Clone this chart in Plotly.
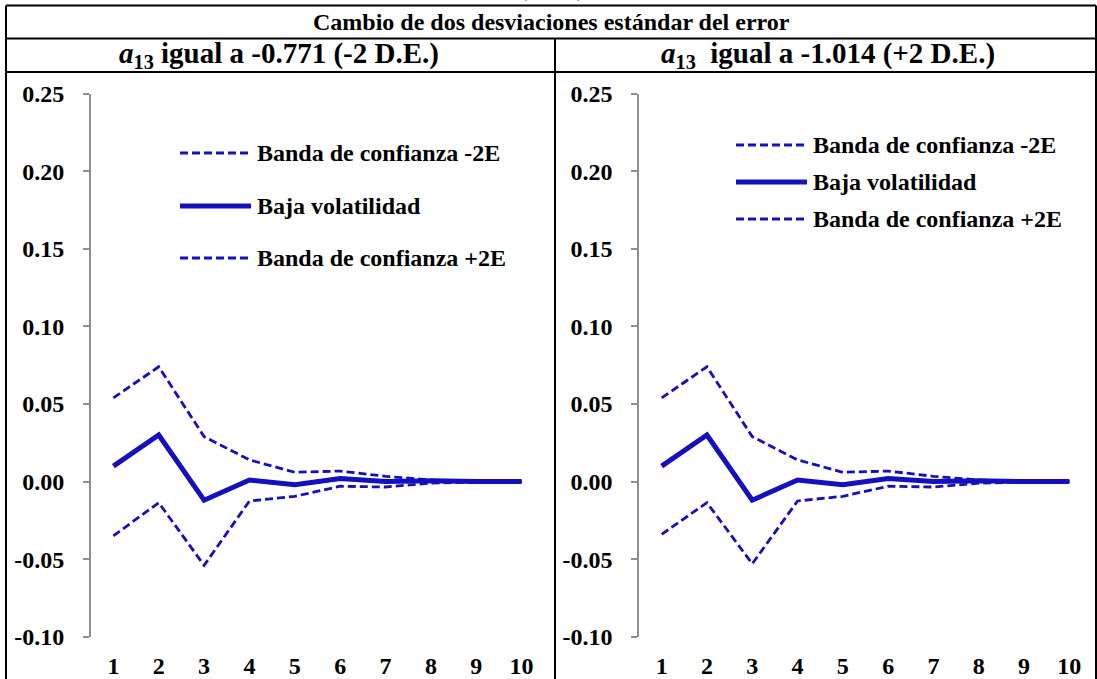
import plotly.graph_objects as go

# ---- data -------------------------------------------------------------
periods = [1, 2, 3, 4, 5, 6, 7, 8, 9, 10]
period_labels = ["1", "2", "3", "4", "5", "6", "7", "8", "9", "10"]

# left panel: a13 = -0.771 (-2 D.E.)
low_vol_left = [0.010, 0.030, -0.012, 0.001, -0.002, 0.002, 0.000, 0.0005, 0.000, 0.000]
band_minus_left = [0.054, 0.074, 0.029, 0.014, 0.006, 0.0068, 0.0034, 0.001, 0.0003, 0.000]
band_plus_left = [-0.035, -0.0136, -0.054, -0.0125, -0.0095, -0.003, -0.0035, -0.001, -0.0003, 0.000]

# right panel: a13 = -1.014 (+2 D.E.)
low_vol_right = [0.010, 0.030, -0.012, 0.001, -0.002, 0.002, 0.000, 0.0005, 0.000, 0.000]
band_minus_right = [0.054, 0.074, 0.029, 0.014, 0.006, 0.0068, 0.0034, 0.001, 0.0003, 0.000]
band_plus_right = [-0.034, -0.0136, -0.053, -0.0125, -0.0095, -0.003, -0.0035, -0.001, -0.0003, 0.000]

y_ticks = [-0.10, -0.05, 0.00, 0.05, 0.10, 0.15, 0.20, 0.25]
y_min, y_max = -0.10, 0.25

main_title = "Cambio de dos desviaciones estándar del error"
left_title = "<i>a</i><sub>13</sub> igual a -0.771 (-2 D.E.)"
right_title = "<i>a</i><sub>13</sub>\u00a0 igual a -1.014 (+2 D.E.)"
name_minus = "Banda de confianza -2E"
name_mid = "Baja volatilidad"
name_plus = "Banda de confianza +2E"

# ---- layout geometry (pixels) -----------------------------------------
W, H = 1097, 679
BLUE = "#1410BE"
AXIS_GREY = "#8E8E8E"
FONT = "Liberation Serif, Times New Roman, serif"
DASH = "8px,4px"


def px_x(x):
    return x / W


def px_y(y):
    return 1 - y / H


y_dom = [px_y(636.7), px_y(93.8)]
left_dom = [px_x(90.7), px_x(544.3)]
right_dom = [px_x(639.0), px_x(1092.0)]
zero_pos = y_dom[0] + (0 - y_min) / (y_max - y_min) * (y_dom[1] - y_dom[0])

x_range = [periods[0] - 0.5, periods[-1] + 0.5]
boundaries = [p - 0.5 for p in periods] + [periods[-1] + 0.5]

fig = go.Figure()


def add_panel(xa, ya, mid, minus, plus):
    fig.add_trace(go.Scatter(x=periods, y=mid, mode="lines", name=name_mid,
                             line=dict(color=BLUE, width=5), xaxis=xa, yaxis=ya,
                             showlegend=False))
    fig.add_trace(go.Scatter(x=periods, y=minus, mode="lines", name=name_minus,
                             line=dict(color=BLUE, width=2.8, dash=DASH), xaxis=xa, yaxis=ya,
                             showlegend=False))
    fig.add_trace(go.Scatter(x=periods, y=plus, mode="lines", name=name_plus,
                             line=dict(color=BLUE, width=2.8, dash=DASH), xaxis=xa, yaxis=ya,
                             showlegend=False))


add_panel("x", "y", low_vol_left, band_minus_left, band_plus_left)
add_panel("x2", "y2", low_vol_right, band_minus_right, band_plus_right)

tick_font = dict(family=FONT, size=24, color="black", weight="bold")

label_axis = dict(range=x_range, tickmode="array", tickvals=periods, ticktext=period_labels,
                  showline=False, ticks="", showgrid=False, zeroline=False,
                  tickfont=tick_font, ticklabelstandoff=12, fixedrange=True, automargin=False)
zero_axis = dict(range=x_range, tickmode="array", tickvals=boundaries, showticklabels=False,
                 showline=True, linecolor=AXIS_GREY, linewidth=1.5,
                 ticks="outside", ticklen=6, tickwidth=1.5, tickcolor=AXIS_GREY,
                 showgrid=False, zeroline=False, anchor="free", position=zero_pos,
                 fixedrange=True, automargin=False)
y_axis = dict(range=[y_min, y_max], domain=y_dom, tickmode="array", tickvals=y_ticks,
              ticktext=[f"{v:.2f}" for v in y_ticks], showline=True, linecolor=AXIS_GREY,
              linewidth=1.5, ticks="outside", ticklen=6, tickwidth=1.5, tickcolor=AXIS_GREY,
              showgrid=False, zeroline=False, tickfont=tick_font, ticklabelstandoff=14,
              fixedrange=True, automargin=False)

fig.update_layout(
    width=W, height=H, margin=dict(l=0, r=0, t=0, b=0, pad=0, autoexpand=False),
    paper_bgcolor="white", plot_bgcolor="white", showlegend=False,
    xaxis=dict(label_axis, domain=left_dom, anchor="y"),
    xaxis2=dict(label_axis, domain=right_dom, anchor="y2"),
    xaxis3=dict(zero_axis, domain=left_dom, overlaying="x"),
    xaxis4=dict(zero_axis, domain=right_dom, overlaying="x2"),
    yaxis=dict(y_axis, anchor="x"),
    yaxis2=dict(y_axis, anchor="x2"),
)

# ---- table frame ------------------------------------------------------
frame = dict(color="black", width=2)
shapes = [
    dict(type="line", xref="paper", yref="paper", x0=px_x(6), x1=px_x(1096), y0=px_y(5.5), y1=px_y(5.5), line=frame),
    dict(type="line", xref="paper", yref="paper", x0=px_x(6), x1=px_x(1096), y0=px_y(38.5), y1=px_y(38.5), line=frame),
    dict(type="line", xref="paper", yref="paper", x0=px_x(6), x1=px_x(1096), y0=px_y(72), y1=px_y(72), line=frame),
    dict(type="line", xref="paper", yref="paper", x0=px_x(6), x1=px_x(6), y0=px_y(5.5), y1=px_y(H + 2), line=frame),
    dict(type="line", xref="paper", yref="paper", x0=px_x(555), x1=px_x(555), y0=px_y(38.5), y1=px_y(H + 2), line=frame),
    dict(type="line", xref="paper", yref="paper", x0=px_x(1096), x1=px_x(1096), y0=px_y(5.5), y1=px_y(H + 2), line=frame),
]

title_font = dict(family=FONT, size=24, color="black", weight="bold")
sub_font = dict(family=FONT, size=29, color="black", weight="bold")
annotations = [
    dict(text="(cont.)", x=px_x(552), y=px_y(3), xref="paper", yref="paper",
         xanchor="center", yanchor="bottom", showarrow=False, font=title_font),
    dict(text=main_title, x=px_x(551), y=px_y(22), xref="paper", yref="paper",
         xanchor="center", yanchor="middle", showarrow=False, font=title_font),
    dict(text=left_title, x=px_x(279), y=px_y(55), xref="paper", yref="paper",
         xanchor="center", yanchor="middle", showarrow=False, font=sub_font),
    dict(text=right_title, x=px_x(828), y=px_y(55), xref="paper", yref="paper",
         xanchor="center", yanchor="middle", showarrow=False, font=sub_font),
]

# ---- in-plot legends --------------------------------------------------
legend_font = dict(family=FONT, size=24, color="black", weight="bold")


def add_key(x0, x1, rows):
    for (name, width, dash), yy in zip([(name_minus, 2.8, DASH), (name_mid, 5, "solid"),
                                        (name_plus, 2.8, DASH)], rows):
        shapes.append(dict(type="line", xref="paper", yref="paper", x0=px_x(x0), x1=px_x(x1),
                           y0=px_y(yy), y1=px_y(yy), line=dict(color=BLUE, width=width, dash=dash)))
        annotations.append(dict(text=name, x=px_x(x1 + 4), y=px_y(yy), xref="paper", yref="paper",
                                xanchor="left", yanchor="middle", showarrow=False, font=legend_font))


add_key(180, 251, [153, 206, 258])
add_key(736, 807, [145, 182, 219])

fig.update_layout(shapes=shapes, annotations=annotations)

fig.write_html("out.html")
